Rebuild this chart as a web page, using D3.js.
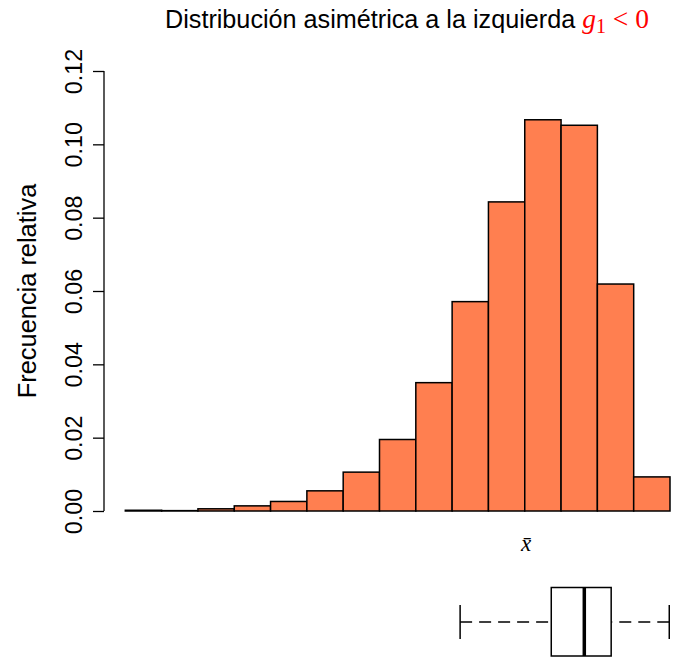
<!DOCTYPE html>
<html>
<head>
<meta charset="utf-8">
<script src="https://cdn.jsdelivr.net/npm/d3@7"></script>
<style>
  html, body { margin: 0; padding: 0; background: #fff; }
  svg { display: block; }
</style>
</head>
<body>
<svg id="chart" width="675" height="658"></svg>
<script>
// ---- data ----
const breaks = [0, 1, 2, 3, 4, 5, 6, 7, 8, 9, 10, 11, 12, 13, 14, 15, 16];
const relFreq = [0, 0.0002, 0.0001, 0.0006, 0.0014, 0.0026, 0.0055, 0.0106, 0.0195, 0.0350, 0.0571, 0.0843, 0.1067, 0.1052, 0.0619, 0.0093];
const yTicks = [0, 0.02, 0.04, 0.06, 0.08, 0.10, 0.12];
const boxStats = [10.22, 12.73, 13.64, 14.38, 15.98]; // min, q1, median, q3, max
const meanValue = 12.04;
const titleText = "Distribución asimétrica a la izquierda ";
const yLabel = "Frecuencia relativa";

// ---- layout ----
const svg = d3.select("#chart");
const x = d3.scaleLinear().domain([breaks[0], breaks[breaks.length - 1]]).range([89, 670]);
const y = d3.scaleLinear().domain([0, 0.12]).range([511, 71]);

const bins = relFreq.map((v, i) => ({ x0: breaks[i], x1: breaks[i + 1], v }));

// bars
svg.append("g").selectAll("rect").data(bins).join("rect")
  .attr("x", d => x(d.x0))
  .attr("y", d => y(d.v))
  .attr("width", d => x(d.x1) - x(d.x0))
  .attr("height", d => y(0) - y(d.v))
  .attr("fill", "#FF7F50")
  .attr("stroke", "#000")
  .attr("stroke-width", 1.5);

// y axis
const yAxis = d3.axisLeft(y).tickValues(yTicks).tickSize(11).tickFormat(d3.format(".2f"));
const gy = svg.append("g").attr("transform", "translate(104,0)").call(yAxis);
gy.select(".domain").attr("d", `M0,${y(0.12)}V${y(0)}`).attr("stroke-width", 1.3);
gy.selectAll(".tick line").attr("stroke-width", 1.3);
gy.selectAll(".tick text").remove();
gy.selectAll(".tick").append("text")
  .attr("transform", "translate(-22,0) rotate(-90)")
  .attr("text-anchor", "middle")
  .attr("fill", "#000")
  .style("font-family", "'Liberation Sans', Arial, sans-serif")
  .style("font-size", "23.3px")
  .text(d => d3.format(".2f")(d));

// y label
svg.append("text")
  .attr("transform", `translate(36,${(y(0) + y(0.12)) / 2}) rotate(-90)`)
  .attr("text-anchor", "middle")
  .style("font-family", "'Liberation Sans', Arial, sans-serif")
  .style("font-size", "25.4px")
  .text(yLabel);

// title
const title = svg.append("text")
  .attr("x", 165).attr("y", 28)
  .style("font-family", "'Liberation Sans', Arial, sans-serif")
  .style("font-size", "25.2px");
title.append("tspan").text(titleText);
title.append("tspan").attr("fill", "#FF0000")
  .style("font-family", "'Liberation Serif', 'Times New Roman', serif")
  .style("font-style", "italic").style("font-size", "27.5px").text("g");
title.append("tspan").attr("fill", "#FF0000").attr("dy", 5)
  .style("font-family", "'Liberation Serif', 'Times New Roman', serif")
  .style("font-size", "20px").text("1");
title.append("tspan").attr("fill", "#FF0000").attr("dy", -5)
  .style("font-family", "'Liberation Serif', 'Times New Roman', serif")
  .style("font-size", "27.5px").text(" < 0");

// mean label
svg.append("text")
  .attr("x", x(meanValue)).attr("y", 551)
  .attr("text-anchor", "middle")
  .style("font-family", "'Liberation Serif', 'Times New Roman', serif")
  .style("font-style", "italic")
  .style("font-size", "23px")
  .text("x\u0304");

// boxplot
const bY = 622, bTop = 587.5, bBot = 656, capH = 17;
const box = svg.append("g").attr("stroke", "#000").attr("fill", "none");
box.append("line").attr("x1", x(boxStats[0])).attr("x2", x(boxStats[1]))
  .attr("y1", bY).attr("y2", bY).attr("stroke-width", 1.5).attr("stroke-dasharray", "12,7");
box.append("line").attr("x1", x(boxStats[4])).attr("x2", x(boxStats[3]))
  .attr("y1", bY).attr("y2", bY).attr("stroke-width", 1.5).attr("stroke-dasharray", "12,7");
[boxStats[0], boxStats[4]].forEach(v => {
  box.append("line").attr("x1", x(v)).attr("x2", x(v))
    .attr("y1", bY - capH).attr("y2", bY + capH).attr("stroke-width", 1.5);
});
box.append("rect").attr("x", x(boxStats[1])).attr("y", bTop)
  .attr("width", x(boxStats[3]) - x(boxStats[1])).attr("height", bBot - bTop)
  .attr("fill", "#fff").attr("stroke-width", 1.5);
box.append("line").attr("x1", x(boxStats[2])).attr("x2", x(boxStats[2]))
  .attr("y1", bTop).attr("y2", bBot).attr("stroke-width", 3.5);
</script>
</body>
</html>
